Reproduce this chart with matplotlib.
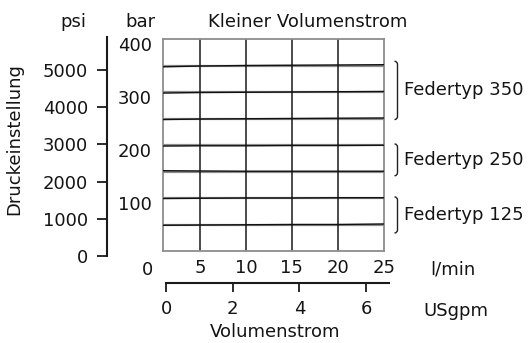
import matplotlib
matplotlib.use("Agg")
import matplotlib.pyplot as plt
from matplotlib.path import Path
from matplotlib.patches import PathPatch
import matplotlib.transforms as mtransforms

# ---- data -------------------------------------------------------------
flow_lpm = [1, 5, 10, 15, 20, 25]

# pressure setting curves (bar) over flow, grouped by spring type
curves_350 = [
    [347.5, 349.0, 350.0, 350.5, 351.0, 351.5],
    [298.0, 299.0, 299.5, 300.0, 300.5, 301.0],
    [248.0, 249.0, 249.5, 250.0, 250.5, 251.0],
]
curves_250 = [
    [198.0, 198.5, 198.5, 199.0, 199.0, 199.5],
    [151.5, 151.0, 150.5, 150.5, 150.5, 150.5],
]
curves_125 = [
    [99.0, 99.5, 100.0, 100.0, 100.5, 100.5],
    [48.5, 49.0, 49.5, 50.0, 50.0, 51.0],
]

bar_ticks = [100, 200, 300, 400]
bar_grid = [50, 100, 150, 200, 250, 300, 350]
lpm_ticks = [5, 10, 15, 20, 25]
psi_ticks = [0, 1000, 2000, 3000, 4000, 5000]
gpm_ticks = [0, 2, 4, 6]

spring_labels = ["Federtyp 350", "Federtyp 250", "Federtyp 125"]
spring_spans = [(248, 358), (142, 202), (34, 102)]

# ---- figure -----------------------------------------------------------
W, H = 530, 343
DPI = 100
plt.rcParams["font.family"] = ["DejaVu Sans"]
FS = 13
TXT = "#141414"

fig = plt.figure(figsize=(W / DPI, H / DPI), dpi=DPI)


def fx(px):
    return px / W


def fy(py):
    return 1 - py / H


# main plot area (bar vs l/min)
ax = fig.add_axes([fx(163), fy(251), fx(384) - fx(163), fy(39) - fy(251)])
ax.set_xlim(1, 25)
ax.set_ylim(0, 400)

for v in bar_grid:
    ax.axhline(v, color="#8c8c8c", lw=1.6, zorder=1)
for v in lpm_ticks[:-1]:
    ax.axvline(v, color="#1a1a1a", lw=1.1, zorder=2)

for group in (curves_350, curves_250, curves_125):
    for c in group:
        ax.plot(flow_lpm, c, color="#111111", lw=1.0, zorder=3)

for s in ax.spines.values():
    s.set_color("#8c8c8c")
    s.set_linewidth(1.3)

ax.set_xticks(lpm_ticks)
ax.set_xticklabels([str(t) for t in lpm_ticks])
ax.set_yticks(bar_ticks)
ax.set_yticklabels([str(t) for t in bar_ticks])
ax.tick_params(axis="both", length=0, labelsize=FS, colors=TXT)
ax.tick_params(axis="x", pad=6)
ax.tick_params(axis="y", pad=8)
# shift bar labels a little below their gridlines
shift = mtransforms.ScaledTranslation(0, -5 / DPI, fig.dpi_scale_trans)
for lab in ax.get_yticklabels():
    lab.set_transform(lab.get_transform() + shift)

# origin label of the flow scale
ax.text(-0.072, -0.113, "0", transform=ax.transAxes, ha="center",
        va="baseline", fontsize=FS, color=TXT)
ax.text(fx(430), fy(275), "l/min", transform=fig.transFigure, ha="left",
        va="baseline", fontsize=FS, color=TXT)

# brackets with spring type labels
for label, (lo, hi) in zip(spring_labels, spring_spans):
    trans = mtransforms.blended_transform_factory(ax.transAxes, ax.transData)
    xb = 1.0 + 13.5 / 221
    dx = 3.0 / 221
    dy = 6.0
    verts = [(xb - dx, hi), (xb, hi), (xb, hi - dy), (xb, (hi + lo) / 2),
             (xb, lo + dy), (xb, lo), (xb - dx, lo)]
    codes = [Path.MOVETO, Path.CURVE3, Path.CURVE3, Path.LINETO,
             Path.LINETO, Path.CURVE3, Path.CURVE3]
    patch = PathPatch(Path(verts, codes), transform=trans, fill=False,
                      edgecolor="#222222", lw=1.0, clip_on=False)
    ax.add_patch(patch)
    ax.text(1.0 + 20 / 221, (lo + hi) / 2, label, transform=trans,
            ha="left", va="center", fontsize=FS, color=TXT)

# psi scale
axp = fig.add_axes([fx(107), fy(256), 0.0005, fy(37) - fy(256)])
axp.set_ylim(0, 5887)
axp.set_xticks([])
for k in ("top", "right", "bottom"):
    axp.spines[k].set_visible(False)
axp.spines["left"].set_linewidth(1.5)
axp.spines["left"].set_color("#1a1a1a")
axp.set_yticks(psi_ticks)
axp.set_yticklabels([str(t) for t in psi_ticks])
axp.tick_params(axis="y", direction="out", length=7.5, width=1.3,
                color="#1a1a1a", pad=6, labelsize=FS, labelcolor=TXT)
axp.patch.set_visible(False)

# USgpm scale
axg = fig.add_axes([fx(166), fy(283), fx(389) - fx(166), 0.0005])
axg.set_xlim(0, 6.69)
axg.set_yticks([])
for k in ("top", "right", "left"):
    axg.spines[k].set_visible(False)
axg.spines["bottom"].set_linewidth(1.5)
axg.spines["bottom"].set_color("#1a1a1a")
axg.set_xticks(gpm_ticks)
axg.set_xticklabels([str(t) for t in gpm_ticks])
axg.tick_params(axis="x", direction="out", length=6.5, width=1.3,
                color="#1a1a1a", pad=6, labelsize=FS, labelcolor=TXT)
axg.patch.set_visible(False)

fig.text(fx(423), fy(316), "USgpm", ha="left", va="baseline",
         fontsize=FS, color=TXT)
fig.text(fx(275), fy(337), "Volumenstrom", ha="center", va="baseline",
         fontsize=FS, color=TXT)
fig.text(fx(14), fy(139), "Druckeinstellung", rotation=90, ha="center",
         va="center", fontsize=FS, color=TXT)

# header line
fig.text(fx(73), fy(27), "psi", ha="center", va="baseline", fontsize=FS, color=TXT)
fig.text(fx(140), fy(27), "bar", ha="center", va="baseline", fontsize=FS, color=TXT)
fig.text(fx(308), fy(27), "Kleiner Volumenstrom", ha="center", va="baseline",
         fontsize=FS, color=TXT)

fig.savefig("out.png", dpi=DPI, facecolor="white")
